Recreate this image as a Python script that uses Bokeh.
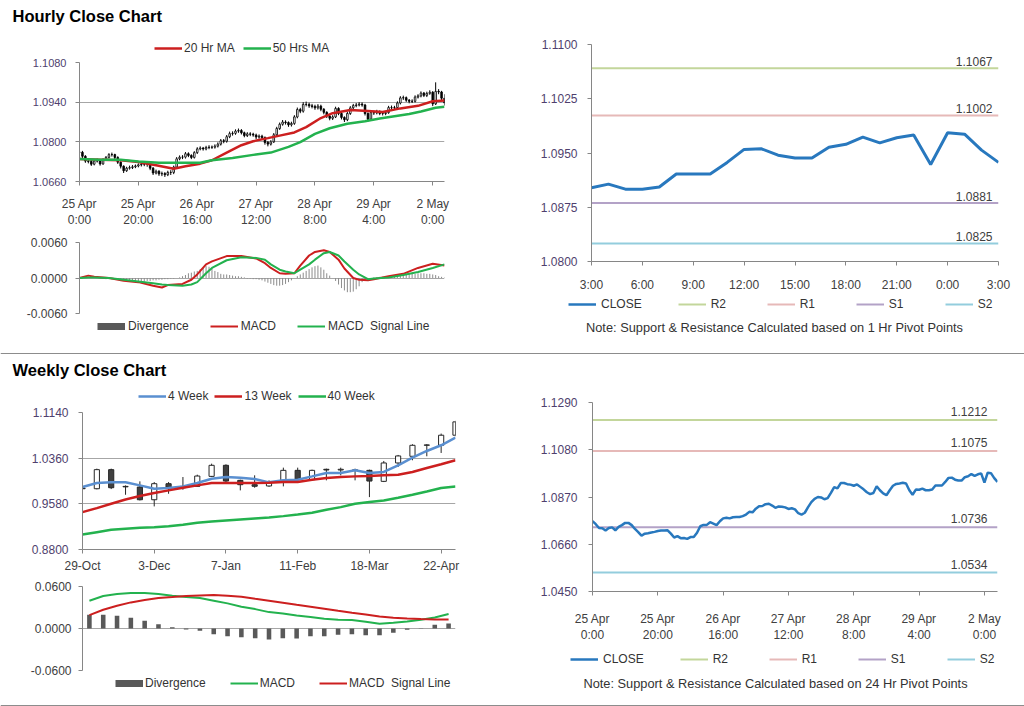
from bokeh.plotting import figure
from bokeh.models import (Range1d, FixedTicker, NumeralTickFormatter, Legend, LegendItem,
                          Label, Span, ColumnDataSource)
from bokeh.layouts import column, row
from bokeh.embed import file_html
from bokeh.resources import INLINE
from bokeh.core.properties import value

FONT = "Liberation Sans"
AXIS = "#868686"
TXT = "#404040"
YPRICE = "#4f3f6e"
GRID = "#a6a6a6"
RED = "#cc1f1f"
GREEN = "#23b24e"
BLUE = "#5a8fd0"
CLOSE_C = "#2878be"
DIVC = "#595959"
NAN = float("nan")

# ---------------- data ----------------
hour_tick_pos = [0, 20, 40, 60, 80, 100, 120]
hour_tick_labels = ["25 Apr\n0:00", "25 Apr\n20:00", "26 Apr\n16:00", "27 Apr\n12:00",
                    "28 Apr\n8:00", "29 Apr\n4:00", "2 May\n0:00"]

hourly_close = [
    1.0763, 1.0749, 1.0732, 1.0731, 1.0721, 1.0732, 1.0735, 1.0722, 1.0737, 1.0745,
    1.0755, 1.0755, 1.0745, 1.0728, 1.0714, 1.0698, 1.0707, 1.0709, 1.0712, 1.0715,
    1.0719, 1.0721, 1.0721, 1.0722, 1.0707, 1.0690, 1.0696, 1.0687, 1.0688, 1.0684,
    1.0692, 1.0692, 1.0711, 1.0740, 1.0746, 1.0746, 1.0758, 1.0752, 1.0745, 1.0762,
    1.0775, 1.0778, 1.0775, 1.0780, 1.0781, 1.0781, 1.0785, 1.0792, 1.0804, 1.0802,
    1.0818, 1.0829, 1.0830, 1.0838, 1.0840, 1.0832, 1.0822, 1.0828, 1.0827, 1.0824,
    1.0817, 1.0820, 1.0815, 1.0798, 1.0792, 1.0800, 1.0825, 1.0847, 1.0862, 1.0870,
    1.0868, 1.0860, 1.0865, 1.0888, 1.0914, 1.0908, 1.0932, 1.0932, 1.0927, 1.0925,
    1.0920, 1.0926, 1.0915, 1.0904, 1.0891, 1.0883, 1.0888, 1.0918, 1.0900, 1.0886,
    1.0878, 1.0900, 1.0920, 1.0928, 1.0930, 1.0933, 1.0930, 1.0900, 1.0880, 1.0903,
    1.0902, 1.0907, 1.0900, 1.0900, 1.0903, 1.0921, 1.0921, 1.0921, 1.0937, 1.0955,
    1.0956, 1.0947, 1.0943, 1.0943, 1.0958, 1.0962, 1.0972, 1.0964, 1.0971, 1.0975,
    1.0934, 1.0978, 1.0976, 1.0954, 1.0937]
hourly_high = [
    1.0772, 1.0768, 1.0753, 1.0740, 1.0736, 1.0738, 1.0741, 1.0739, 1.0742, 1.0750,
    1.0760, 1.0762, 1.0758, 1.0749, 1.0731, 1.0717, 1.0712, 1.0716, 1.0718, 1.0720,
    1.0724, 1.0727, 1.0728, 1.0729, 1.0725, 1.0711, 1.0702, 1.0700, 1.0695, 1.0693,
    1.0698, 1.0700, 1.0716, 1.0746, 1.0752, 1.0753, 1.0764, 1.0763, 1.0756, 1.0767,
    1.0781, 1.0784, 1.0782, 1.0786, 1.0788, 1.0787, 1.0791, 1.0798, 1.0810, 1.0810,
    1.0824, 1.0836, 1.0837, 1.0844, 1.0847, 1.0845, 1.0836, 1.0834, 1.0834, 1.0832,
    1.0829, 1.0826, 1.0825, 1.0819, 1.0803, 1.0806, 1.0831, 1.0853, 1.0868, 1.0877,
    1.0876, 1.0872, 1.0871, 1.0894, 1.0921, 1.0920, 1.0940, 1.0942, 1.0938, 1.0934,
    1.0931, 1.0933, 1.0931, 1.0919, 1.0908, 1.0895, 1.0894, 1.0924, 1.0922, 1.0905,
    1.0890, 1.0906, 1.0926, 1.0934, 1.0937, 1.0940, 1.0939, 1.0934, 1.0904, 1.0909,
    1.0910, 1.0913, 1.0911, 1.0907, 1.0909, 1.0927, 1.0928, 1.0927, 1.0943, 1.0961,
    1.0963, 1.0960, 1.0951, 1.0950, 1.0964, 1.0968, 1.0978, 1.0976, 1.0977, 1.0982,
    1.0979, 1.1010, 1.0986, 1.0980, 1.0968]
hourly_low = [
    1.0752, 1.0743, 1.0726, 1.0724, 1.0715, 1.0717, 1.0727, 1.0716, 1.0719, 1.0733,
    1.0741, 1.0748, 1.0739, 1.0722, 1.0706, 1.0690, 1.0694, 1.0702, 1.0704, 1.0707,
    1.0710, 1.0713, 1.0714, 1.0712, 1.0700, 1.0683, 1.0685, 1.0680, 1.0679, 1.0676,
    1.0679, 1.0683, 1.0686, 1.0707, 1.0735, 1.0739, 1.0741, 1.0746, 1.0739, 1.0741,
    1.0757, 1.0770, 1.0769, 1.0770, 1.0774, 1.0775, 1.0776, 1.0780, 1.0787, 1.0795,
    1.0797, 1.0813, 1.0822, 1.0825, 1.0832, 1.0826, 1.0816, 1.0817, 1.0820, 1.0818,
    1.0810, 1.0811, 1.0808, 1.0790, 1.0784, 1.0787, 1.0796, 1.0820, 1.0842, 1.0857,
    1.0861, 1.0853, 1.0854, 1.0860, 1.0883, 1.0901, 1.0903, 1.0925, 1.0920, 1.0918,
    1.0913, 1.0914, 1.0908, 1.0897, 1.0884, 1.0876, 1.0877, 1.0884, 1.0894, 1.0879,
    1.0870, 1.0873, 1.0895, 1.0915, 1.0922, 1.0925, 1.0924, 1.0893, 1.0872, 1.0875,
    1.0895, 1.0897, 1.0894, 1.0893, 1.0894, 1.0899, 1.0914, 1.0915, 1.0916, 1.0932,
    1.0948, 1.0941, 1.0936, 1.0937, 1.0939, 1.0953, 1.0957, 1.0958, 1.0958, 1.0966,
    1.0926, 1.0930, 1.0968, 1.0946, 1.0928]

ma20_idx = [0, 7, 14, 20, 26, 32, 36, 41, 45, 50, 55, 59, 64, 68, 73, 77, 82, 86, 92, 98,
            103, 109, 115, 120, 124]
ma20 = [1.0739, 1.0737, 1.0735, 1.0729, 1.0717, 1.0705, 1.0714, 1.0723, 1.0735, 1.0762,
        1.0788, 1.0802, 1.0813, 1.0822, 1.0833, 1.0852, 1.0884, 1.0901, 1.0912, 1.0909,
        1.0905, 1.0918, 1.0927, 1.0943, 1.0946]
ma50_idx = [0, 7, 14, 20, 27, 32, 36, 41, 45, 52, 59, 65, 71, 75, 80, 85, 91, 97, 102, 107,
            112, 116, 121, 124]
ma50 = [1.0739, 1.0737, 1.0737, 1.0731, 1.0726, 1.0726, 1.0726, 1.0726, 1.0735, 1.0743,
        1.0754, 1.0762, 1.0782, 1.0799, 1.0828, 1.0848, 1.0864, 1.0873, 1.0882, 1.0890,
        1.0898, 1.0907, 1.0920, 1.0924]

hmacd_idx = [0, 3, 5, 10, 15, 20, 25, 28, 30, 35, 38, 40, 43, 45, 50, 55, 60, 63, 65, 68,
             70, 73, 75, 78, 80, 83, 85, 88, 90, 93, 95, 98, 100, 105, 110, 115, 120, 124]
hmacd = [0.0000, 0.0004, 0.0002, 0.0000, -0.00045, -0.0007, -0.0013, -0.0016, -0.0012, -0.0010,
         -0.0003, 0.0006, 0.0023, 0.0028, 0.0037, 0.0037, 0.0033, 0.0025, 0.0017, 0.0008,
         0.0007, 0.0008, 0.0021, 0.0038, 0.0044, 0.0047, 0.0044, 0.0031, 0.0016, 0.0000,
         -0.0003, -0.0004, -0.0002, 0.0003, 0.0007, 0.0017, 0.0024, 0.0021]
hsignal = [0.0000, 0.0001, 0.0001, 0.0000, -0.0003, -0.0006, -0.0009, -0.0011, -0.0012, -0.0013,
           -0.0011, -0.0007, 0.0008, 0.0017, 0.0030, 0.0035, 0.0034, 0.0031, 0.0023, 0.0014,
           0.0011, 0.0008, 0.0014, 0.0023, 0.0031, 0.0042, 0.0044, 0.0038, 0.0028, 0.0014,
           0.0006, -0.0002, -0.0001, 0.0001, 0.0005, 0.0010, 0.0017, 0.0023]
hdiv = [0.0001, 0.0002, 0.0002, 0.0001, 0.0001, 0.0000, 0.0000,
        -0.0001, -0.0001, -0.0002, -0.0002, -0.0002, -0.0003, -0.0003, -0.0003, -0.0004,
        -0.0004, -0.0004, -0.0005, -0.0005, -0.0005, -0.0005, -0.0006, -0.0005, -0.0005,
        -0.0004, -0.0004, -0.0003, -0.0003, -0.0002, -0.0002, -0.0001, -0.0001, 0.0000,
        0.0001, 0.0003, 0.0005, 0.0008, 0.0009, 0.0011,
        0.0012, 0.0015, 0.0017, 0.0020, 0.0019, 0.0016, 0.0012, 0.0010, 0.0007,
        0.0006, 0.0006, 0.0005, 0.0004, 0.0003, 0.0003, 0.0002, 0.0001,
        -0.0001, -0.0001, -0.0002, -0.0002, -0.0003, -0.0004,
        -0.0006, -0.0008, -0.0010, -0.0012, -0.0013, -0.0013, -0.0012, -0.0010, -0.0007, -0.0004,
        0.0000, 0.0003,
        0.0006, 0.0009, 0.0012, 0.0015, 0.0018, 0.0020, 0.0021, 0.0018, 0.0014, 0.0008, 0.0004,
        0.0000, -0.0005, -0.0011, -0.0017, -0.0021, -0.0024, -0.0024, -0.0023, -0.0019, -0.0014,
        -0.0007, -0.0004, -0.0002,
        0.0000, 0.0001, 0.0001, 0.0002, 0.0002, 0.0003, 0.0003, 0.0004, 0.0004, 0.0005,
        0.0006, 0.0006, 0.0006, 0.0007, 0.0007, 0.0007, 0.0008, 0.0008, 0.0008, 0.0007,
        0.0007, 0.0006, 0.0005, 0.0003, 0.0002, 0.0001]

last25_tick_pos = [0, 3, 6, 9, 12, 15, 18, 21, 24]
last25_tick_labels = ["3:00", "6:00", "9:00", "12:00", "15:00", "18:00", "21:00", "0:00", "3:00"]

pivot_names = ["R2", "R1", "S1", "S2"]
pivot_colors = ["#c3d69b", "#e6b9b8", "#b3a2c7", "#93cddd"]
pivot_1h = [1.1067, 1.1002, 1.0881, 1.0825]
pivot_24h = [1.1212, 1.1075, 1.0736, 1.0534]

week_tick_pos = [0, 5, 10, 15, 20, 25]
week_tick_labels = ["29-Oct", "3-Dec", "7-Jan", "11-Feb", "18-Mar", "22-Apr"]
w_open = [0.9850, 0.9838, 1.0164, 0.9878, 0.9867, 0.9650, 0.9924, 0.9855, 0.9878, 1.0049,
          1.0238, 0.9981, 0.9907, 0.9885, 0.9981, 1.0152, 0.9992, 1.0170, 1.0158, 1.0160,
          1.0152, 0.9964, 1.0278, 1.0392, 1.0580, 1.0580, 1.0752]
w_high = [0.9975, 1.0181, 1.0181, 0.9895, 0.9964, 0.9952, 0.9952, 1.0038, 1.0078, 1.0266,
          1.0255, 0.9992, 1.0067, 0.9981, 1.0198, 1.0198, 1.0164, 1.0181, 1.0198, 1.0181,
          1.0164, 1.0312, 1.0415, 1.0598, 1.0598, 1.0780, 1.0997]
w_low = [0.9670, 0.9827, 0.9832, 0.9735, 0.9638, 0.9536, 0.9752, 0.9821, 0.9870, 1.0038,
         0.9952, 0.9810, 0.9855, 0.9870, 0.9878, 0.9981, 0.9981, 0.9981, 1.0067, 0.9981,
         0.9695, 0.9952, 1.0209, 1.0324, 1.0392, 1.0449, 1.0735]
w_close = [0.9838, 1.0164, 0.9855, 0.9870, 0.9650, 0.9924, 0.9855, 0.9878, 1.0055, 1.0238,
           0.9969, 0.9907, 0.9880, 0.9947, 1.0152, 0.9998, 1.0152, 1.0158, 1.0170, 1.0152,
           0.9969, 1.0278, 1.0398, 1.0580, 1.0586, 1.0752, 1.0980]
w_ma4 = [0.9867, 0.9935, 0.9947, 0.9947, 0.9895, 0.9838, 0.9850, 0.9878, 0.9935, 1.0009,
         1.0038, 1.0027, 1.0004, 0.9947, 0.9981, 0.9992, 1.0049, 1.0107, 1.0107, 1.0152,
         1.0107, 1.0124, 1.0238, 1.0369, 1.0483, 1.0580, 1.0712]
w_ma13 = [0.9438, 0.9507, 0.9581, 0.9655, 0.9713, 0.9764, 0.9810, 0.9855, 0.9895, 0.9935,
          0.9935, 0.9935, 0.9935, 0.9941, 0.9952, 0.9952, 0.9992, 1.0021, 1.0038, 1.0049,
          1.0055, 1.0067, 1.0078, 1.0124, 1.0192, 1.0255, 1.0324]
w_ma40 = [0.9056, 0.9096, 0.9136, 0.9153, 0.9170, 0.9181, 0.9199, 0.9222, 0.9256, 0.9279,
          0.9296, 0.9313, 0.9330, 0.9347, 0.9370, 0.9398, 0.9427, 0.9478, 0.9524, 0.9581,
          0.9610, 0.9638, 0.9684, 0.9735, 0.9792, 0.9850, 0.9878]
w_div = [0.0196, 0.0196, 0.0182, 0.0153, 0.0110, 0.0062, 0.0019, -0.0014, -0.0033, -0.0081,
         -0.0110, -0.0124, -0.0139, -0.0158, -0.0139, -0.0143, -0.0110, -0.0110, -0.0091, -0.0081,
         -0.0096, -0.0096, -0.0062, -0.0019, -0.0005, 0.0053, 0.0072]
w_macd = [0.0397, 0.0464, 0.0492, 0.0507, 0.0507, 0.0492, 0.0468, 0.0449, 0.0435, 0.0397,
          0.0359, 0.0311, 0.0277, 0.0234, 0.0215, 0.0186, 0.0163, 0.0139, 0.0124, 0.0120,
          0.0096, 0.0067, 0.0081, 0.0100, 0.0124, 0.0158, 0.0206]
w_signal = [0.0191, 0.0268, 0.0325, 0.0373, 0.0406, 0.0435, 0.0449, 0.0464, 0.0473, 0.0478,
            0.0468, 0.0454, 0.0425, 0.0397, 0.0368, 0.0339, 0.0311, 0.0282, 0.0253, 0.0225,
            0.0201, 0.0172, 0.0153, 0.0143, 0.0134, 0.0129, 0.0129]


# ---------------- helpers ----------------
def base_fig(w, h, bl, br, bt, bb, xr, yr, yticks, ylab_color=TXT, ylab_size="12px",
             ystand=9, xstand=8, grid=True):
    p = figure(width=w, height=h, x_range=xr, y_range=yr, output_backend="svg",
               toolbar_location=None, min_border_left=bl, min_border_right=br,
               min_border_top=bt, min_border_bottom=bb)
    p.outline_line_color = None
    p.background_fill_color = "white"
    p.border_fill_color = "white"
    p.xgrid.visible = False
    if grid:
        p.ygrid.grid_line_color = GRID
        p.ygrid.grid_line_width = 1
    else:
        p.ygrid.visible = False
    for ax in (p.xaxis[0], p.yaxis[0]):
        ax.axis_line_color = AXIS
        ax.major_tick_line_color = AXIS
        ax.major_tick_out = 4
        ax.major_tick_in = 0
        ax.minor_tick_out = 0
        ax.minor_tick_in = 0
        ax.major_label_text_font = FONT
        ax.major_label_text_font_size = "12px"
        ax.major_label_text_color = TXT
    p.yaxis[0].ticker = FixedTicker(ticks=yticks)
    p.yaxis[0].formatter = NumeralTickFormatter(format="0.0000")
    p.yaxis[0].major_label_text_color = ylab_color
    p.yaxis[0].major_label_text_font_size = ylab_size
    p.yaxis[0].major_label_standoff = ystand
    p.xaxis[0].major_label_standoff = xstand
    return p


def set_xticks(p, pos, labels):
    p.xaxis[0].ticker = FixedTicker(ticks=pos)
    p.xaxis[0].major_label_overrides = {k: v for k, v in zip(pos, labels)}


def band(w, h, title=None, title_xy=None, line_y=None, legend=None, note=None):
    """Blank strip whose frame is the whole canvas (1 data unit = 1 px)."""
    p = figure(width=w, height=h, x_range=Range1d(0, w), y_range=Range1d(0, h),
               output_backend="svg", toolbar_location=None, x_axis_location=None,
               y_axis_location=None, min_border=0)
    try:
        p.frame_align = False
    except Exception:
        pass
    p.outline_line_color = None
    p.background_fill_color = "white"
    p.border_fill_color = "white"
    p.xgrid.visible = False
    p.ygrid.visible = False
    if title:
        p.add_layout(Label(x=title_xy[0], y=title_xy[1], text=title, text_font=FONT,
                           text_font_size="16.5px", text_font_style="bold",
                           text_baseline="middle", text_color="black"))
    if line_y is not None:
        p.add_layout(Span(location=line_y, dimension="width", line_color="#8c8c8c",
                          line_width=1))
    if legend:
        specs, (lx, ly), spacing, standoff = legend
        items = []
        for lab, col, lw in specs:
            r = p.line(x=[NAN], y=[NAN], line_color=col, line_width=lw)
            items.append(LegendItem(label=lab, renderers=[r]))
        lg = Legend(items=items, orientation="horizontal", location=(lx, ly),
                    label_text_font=FONT, label_text_font_size="12px",
                    label_text_color="#333333", glyph_width=28, glyph_height=12,
                    label_height=12, label_standoff=standoff, spacing=spacing, padding=0,
                    margin=0, border_line_color=None, background_fill_alpha=0)
        p.add_layout(lg)
    if note:
        txt, (nx, ny) = note
        p.add_layout(Label(x=nx, y=ny, text=txt, text_font=FONT, text_font_size="12.8px",
                           text_color="#333333", text_align="center", text_baseline="middle"))
    return p


idx = list(range(len(hourly_close)))
hourly_open = hourly_close[:1] + hourly_close[:-1]

# ---------------- hourly candles (top-left) ----------------
tl_leg = band(460, 26, legend=([("20 Hr MA", RED, 2.5), ("50 Hrs MA", GREEN, 2.5)],
                               (154, 1), 8, 2))
tl = base_fig(460, 174, 79, 16, 6, 44, Range1d(0, 124), Range1d(1.0660, 1.1080),
              [1.0660, 1.0800, 1.0940, 1.1080], ylab_color=YPRICE, ylab_size="11px",
              ystand=9, xstand=11)
set_xticks(tl, hour_tick_pos, hour_tick_labels)
csrc = ColumnDataSource(dict(
    x=idx, hi=hourly_high, lo=hourly_low,
    top=[max(o, c) for o, c in zip(hourly_open, hourly_close)],
    bot=[min(o, c) for o, c in zip(hourly_open, hourly_close)],
    fill=["white" if c >= o else "black" for o, c in zip(hourly_open, hourly_close)]))
tl.segment(x0="x", y0="lo", x1="x", y1="hi", source=csrc, line_color="black", line_width=1)
tl.vbar(x="x", width=0.55, top="top", bottom="bot", fill_color="fill", line_color="black",
        line_width=0.8, source=csrc)
tl.line(ma20_idx, ma20, line_color=RED, line_width=2.5)
tl.line(ma50_idx, ma50, line_color=GREEN, line_width=2.5)

# ---------------- hourly MACD ----------------
tm = base_fig(460, 90, 79, 16, 12, 7, Range1d(0, 124), Range1d(-0.006, 0.006),
              [-0.006, 0.0, 0.006], ystand=8)
tm.xaxis.visible = False
tm.segment(x0=idx, y0=[0] * len(hdiv), x1=idx, y1=hdiv, line_color="#8c8c8c", line_width=1)
tm.line(hmacd_idx, hmacd, line_color=RED, line_width=2)
tm.line(hmacd_idx, hsignal, line_color=GREEN, line_width=2)
tm_leg = band(460, 20, legend=([("Divergence", DIVC, 7), ("MACD", RED, 2),
                                ("MACD  Signal Line", GREEN, 2)], (97, 7), 21, 3))

# ---------------- last 25 hours (top-right) ----------------
last25 = hourly_close[-25:]
lidx = list(range(len(last25)))
tr = base_fig(564, 265, 131, 26, 14, 34, Range1d(0, 24), Range1d(1.0800, 1.1100),
              [1.0800, 1.0875, 1.0950, 1.1025, 1.1100], ylab_color=YPRICE, ystand=10,
              xstand=12, grid=False)
set_xticks(tr, last25_tick_pos, last25_tick_labels)
for lv, col in zip(pivot_1h, pivot_colors):
    tr.line([lidx[0], lidx[-1]], [lv, lv], line_color=col, line_width=2)
tr.line(lidx, last25, line_color=CLOSE_C, line_width=3)
tr.text(x=[lidx[-1]] * 4, y=pivot_1h, text=["%.4f" % v for v in pivot_1h],
        text_align="right", text_baseline="bottom", x_offset=-6, y_offset=-2,
        text_font=value(FONT), text_font_size="12px", text_color=TXT)
leg_specs = [("CLOSE", CLOSE_C, 2.5)] + [(n, c, 2) for n, c in zip(pivot_names, pivot_colors)]
tr_leg = band(564, 45, legend=(leg_specs, (108, 29), 36, 5),
              note=("Note: Support & Resistance Calculated based on 1 Hr Pivot Points", (314, 13)))

# ---------------- weekly candles (bottom-left) ----------------
widx = list(range(len(w_close)))
bl_leg = band(460, 20, legend=([("4 Week", BLUE, 2.5), ("13 Week", RED, 2.5),
                                ("40 Week", GREEN, 2.5)], (138, 1), 6, 2))
bl = base_fig(460, 171, 82, 5, 8, 26, Range1d(0, 26), Range1d(0.8800, 1.1140),
              [0.8800, 0.9580, 1.0360, 1.1140], ylab_color=YPRICE, ystand=10, xstand=5)
set_xticks(bl, week_tick_pos, week_tick_labels)
wsrc = ColumnDataSource(dict(
    x=widx, hi=w_high, lo=w_low,
    top=[max(o, c) for o, c in zip(w_open, w_close)],
    bot=[min(o, c) for o, c in zip(w_open, w_close)],
    fill=["white" if c >= o else "#404040" for o, c in zip(w_open, w_close)]))
bl.segment(x0="x", y0="lo", x1="x", y1="hi", source=wsrc, line_color="#262626", line_width=1)
bl.vbar(x="x", width=0.36, top="top", bottom="bot", fill_color="fill", line_color="#262626",
        line_width=1, source=wsrc)
bl.line(widx, w_ma4, line_color=BLUE, line_width=2.5)
bl.line(widx, w_ma13, line_color=RED, line_width=2.5)
bl.line(widx, w_ma40, line_color=GREEN, line_width=2.5)

# ---------------- weekly MACD ----------------
bm = base_fig(460, 102, 82, 5, 11, 7, Range1d(-0.5, 26.5), Range1d(-0.06, 0.06),
              [-0.06, 0.0, 0.06], ystand=7)
bm.xaxis.visible = False
bm.vbar(x=widx, width=0.33, top=w_div, bottom=0, fill_color=DIVC, line_color=None)
bm.line(widx, w_macd, line_color=GREEN, line_width=2)
bm.line(widx, w_signal, line_color=RED, line_width=2)
bm_leg = band(460, 18, legend=([("Divergence", DIVC, 7), ("MACD", GREEN, 2),
                                ("MACD  Signal Line", RED, 2)], (115, 5), 24, 2))

# ---------------- hourly close with 24h pivots (bottom-right) ----------------
br = base_fig(564, 261, 132, 27, 18, 47, Range1d(0, 124), Range1d(1.0450, 1.1290),
              [1.0450, 1.0660, 1.0870, 1.1080, 1.1290], ylab_color=YPRICE, ystand=11,
              xstand=16, grid=False)
set_xticks(br, hour_tick_pos, hour_tick_labels)
for lv, col in zip(pivot_24h, pivot_colors):
    br.line([idx[0], idx[-1]], [lv, lv], line_color=col, line_width=2)
br.line(idx, hourly_close, line_color=CLOSE_C, line_width=2.5)
br.text(x=[idx[-1]] * 4, y=pivot_24h, text=["%.4f" % v for v in pivot_24h],
        text_align="right", text_baseline="bottom", x_offset=-10, y_offset=-4,
        text_font=value(FONT), text_font_size="12px", text_color=TXT)
br_leg = band(564, 50, legend=(leg_specs, (110, 29), 36, 5),
              note=("Note: Support & Resistance Calculated based on 24 Hr Pivot Points", (315, 12)))

# ---------------- layout ----------------
title1 = band(1024, 30, title="Hourly Close Chart", title_xy=(12, 15))
mid = band(1024, 44, title="Weekly Close Chart", title_xy=(12, 15), line_y=31)
bottom_line = band(1024, 11, line_y=2)

layout = column(title1,
                row(column(tl_leg, tl, tm, tm_leg), column(tr, tr_leg)),
                mid,
                row(column(bl_leg, bl, bm, bm_leg), column(br, br_leg)),
                bottom_line)

open("out.html", "w").write(file_html(layout, INLINE))
